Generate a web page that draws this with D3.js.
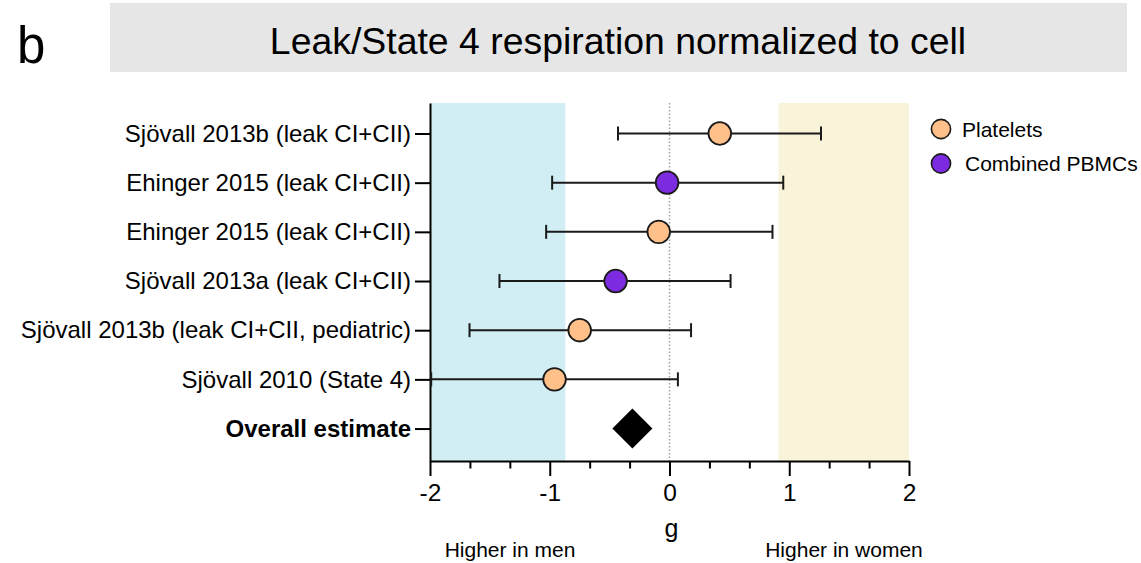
<!DOCTYPE html>
<html>
<head>
<meta charset="utf-8">
<script src="https://cdn.jsdelivr.net/npm/d3@7"></script>
<style>
  html, body { margin: 0; padding: 0; background: #fff; }
  svg { display: block; font-family: "Liberation Sans", Arial, Helvetica, sans-serif; }
</style>
</head>
<body>
<svg id="chart" width="1141" height="563"></svg>
<script>
// ---------------- data ----------------
const studies = [
  "Sjövall 2013b (leak CI+CII)",
  "Ehinger 2015 (leak CI+CII)",
  "Ehinger 2015 (leak CI+CII)",
  "Sjövall 2013a (leak CI+CII)",
  "Sjövall 2013b (leak CI+CII, pediatric)",
  "Sjövall 2010 (State 4)"
];
const cellTypes = ["Platelets", "Combined PBMCs", "Platelets", "Combined PBMCs", "Platelets", "Platelets"];
const estimates = [0.42, -0.02, -0.09, -0.45, -0.75, -0.96];
const lowerCI   = [-0.43, -0.98, -1.03, -1.42, -1.67, -1.99];
const upperCI   = [1.265, 0.95, 0.86, 0.51, 0.18, 0.07];
const overallLabel = "Overall estimate";
const overallEstimate = -0.31;
const xTicks = [-2, -1, 0, 1, 2];
const xDomain = [-2, 2];
const menRegion = [-2, -0.87];
const womenRegion = [0.91, 2];
const legendItems = ["Platelets", "Combined PBMCs"];
const title = "Leak/State 4 respiration normalized to cell";
const panelLetter = "b";
const xAxisTitle = "g";
const leftNote = "Higher in men";
const rightNote = "Higher in women";

// ---------------- layout ----------------
const svg = d3.select("#chart");
const colors = { "Platelets": "#FFC08A", "Combined PBMCs": "#7D2BE0" };
const rowLabels = studies.concat([overallLabel]);

const x = d3.scaleLinear().domain(xDomain).range([430, 909]);
const y = d3.scaleLinear().domain([-0.62, 6.66]).range([103, 461]);

// title box
svg.append("rect").attr("x", 110).attr("y", 3).attr("width", 1017).attr("height", 69).attr("fill", "#e6e6e6");
svg.append("text").attr("x", 618).attr("y", 54).attr("text-anchor", "middle")
  .attr("font-size", 37.4).attr("fill", "#000").text(title);
svg.append("text").attr("x", 17).attr("y", 63).attr("font-size", 51).attr("fill", "#000").text(panelLetter);

// shaded regions
svg.append("rect").attr("x", x(menRegion[0])).attr("y", y.range()[0])
  .attr("width", x(menRegion[1]) - x(menRegion[0])).attr("height", y.range()[1] - y.range()[0])
  .attr("fill", "#D0EEF3");
svg.append("rect").attr("x", x(womenRegion[0])).attr("y", y.range()[0])
  .attr("width", x(womenRegion[1]) - x(womenRegion[0])).attr("height", y.range()[1] - y.range()[0])
  .attr("fill", "#F8F3D9");

// zero reference line
svg.append("line").attr("x1", x(0)).attr("x2", x(0)).attr("y1", y.range()[0]).attr("y2", y.range()[1])
  .attr("stroke", "#a0a0a0").attr("stroke-width", 1.5).attr("stroke-dasharray", "1.5,2");

// x axis (major + minor ticks)
const minorTicks = d3.range(-2, 2.0001, 1 / 3).filter(v => Math.abs(v - Math.round(v)) > 1e-6);
const xMinor = svg.append("g").attr("transform", `translate(0,${y.range()[1]})`)
  .call(d3.axisBottom(x).tickValues(minorTicks).tickSize(7.5).tickFormat(""));
xMinor.select(".domain").remove();
xMinor.selectAll(".tick line").attr("stroke", "#000").attr("stroke-width", 2);

const xAxis = svg.append("g").attr("transform", `translate(0,${y.range()[1]})`)
  .call(d3.axisBottom(x).tickValues(xTicks).tickSize(15).tickSizeOuter(0).tickPadding(8).tickFormat(d => String(d)));
xAxis.select(".domain").attr("stroke", "#000").attr("stroke-width", 2);
xAxis.selectAll(".tick line").attr("stroke", "#000").attr("stroke-width", 2);
xAxis.selectAll(".tick text").attr("font-size", 24.5).attr("fill", "#000")
  .attr("font-family", "'Liberation Sans', Arial, sans-serif").attr("dy", "0.71em");

// y axis
const yAxis = svg.append("g").attr("transform", `translate(${x.range()[0]},0)`)
  .call(d3.axisLeft(y).tickValues(d3.range(rowLabels.length)).tickSize(15).tickSizeOuter(0).tickPadding(4)
    .tickFormat(i => rowLabels[i]));
yAxis.select(".domain").attr("stroke", "#000").attr("stroke-width", 2);
yAxis.selectAll(".tick line").attr("stroke", "#000").attr("stroke-width", 2);
yAxis.selectAll(".tick text").attr("font-size", 24).attr("fill", "#000")
  .attr("font-family", "'Liberation Sans', Arial, sans-serif")
  .attr("font-weight", i => i === rowLabels.length - 1 ? "bold" : "normal");

// error bars
const rows = studies.map((s, i) => ({ i, lo: lowerCI[i], hi: upperCI[i], est: estimates[i], type: cellTypes[i] }));
const eb = svg.append("g").attr("stroke", "#1a1a1a").attr("stroke-width", 2);
eb.selectAll("line.bar").data(rows).join("line").attr("class", "bar")
  .attr("x1", d => x(d.lo)).attr("x2", d => x(d.hi)).attr("y1", d => y(d.i)).attr("y2", d => y(d.i));
eb.selectAll("line.capl").data(rows).join("line").attr("class", "capl")
  .attr("x1", d => x(d.lo)).attr("x2", d => x(d.lo)).attr("y1", d => y(d.i) - 7).attr("y2", d => y(d.i) + 7);
eb.selectAll("line.caph").data(rows).join("line").attr("class", "caph")
  .attr("x1", d => x(d.hi)).attr("x2", d => x(d.hi)).attr("y1", d => y(d.i) - 7).attr("y2", d => y(d.i) + 7);

// points
svg.append("g").selectAll("circle").data(rows).join("circle")
  .attr("cx", d => x(d.est)).attr("cy", d => y(d.i)).attr("r", 11.3)
  .attr("fill", d => colors[d.type]).attr("stroke", "#1a1a1a").attr("stroke-width", 1.8);

// overall diamond
const oy = y(rowLabels.length - 1), ox = x(overallEstimate);
svg.append("path")
  .attr("d", `M${ox},${oy - 20}L${ox + 20},${oy}L${ox},${oy + 20}L${ox - 20},${oy}Z`)
  .attr("fill", "#000");

// axis labels
svg.append("text").attr("x", x(0) + 2).attr("y", 537).attr("text-anchor", "middle").attr("font-size", 25).text(xAxisTitle);
svg.append("text").attr("x", 510).attr("y", 557).attr("text-anchor", "middle").attr("font-size", 21).text(leftNote);
svg.append("text").attr("x", 844).attr("y", 557).attr("text-anchor", "middle").attr("font-size", 21).text(rightNote);

// legend
const leg = svg.append("g");
legendItems.forEach((name, k) => {
  const cy = 129 + k * 34.5;
  leg.append("circle").attr("cx", 941).attr("cy", cy).attr("r", 9.6)
    .attr("fill", colors[name]).attr("stroke", "#1a1a1a").attr("stroke-width", 1.6);
  leg.append("text").attr("x", k === 0 ? 962 : 965).attr("y", cy + 7.5).attr("font-size", 21).text(name);
});
</script>
</body>
</html>
